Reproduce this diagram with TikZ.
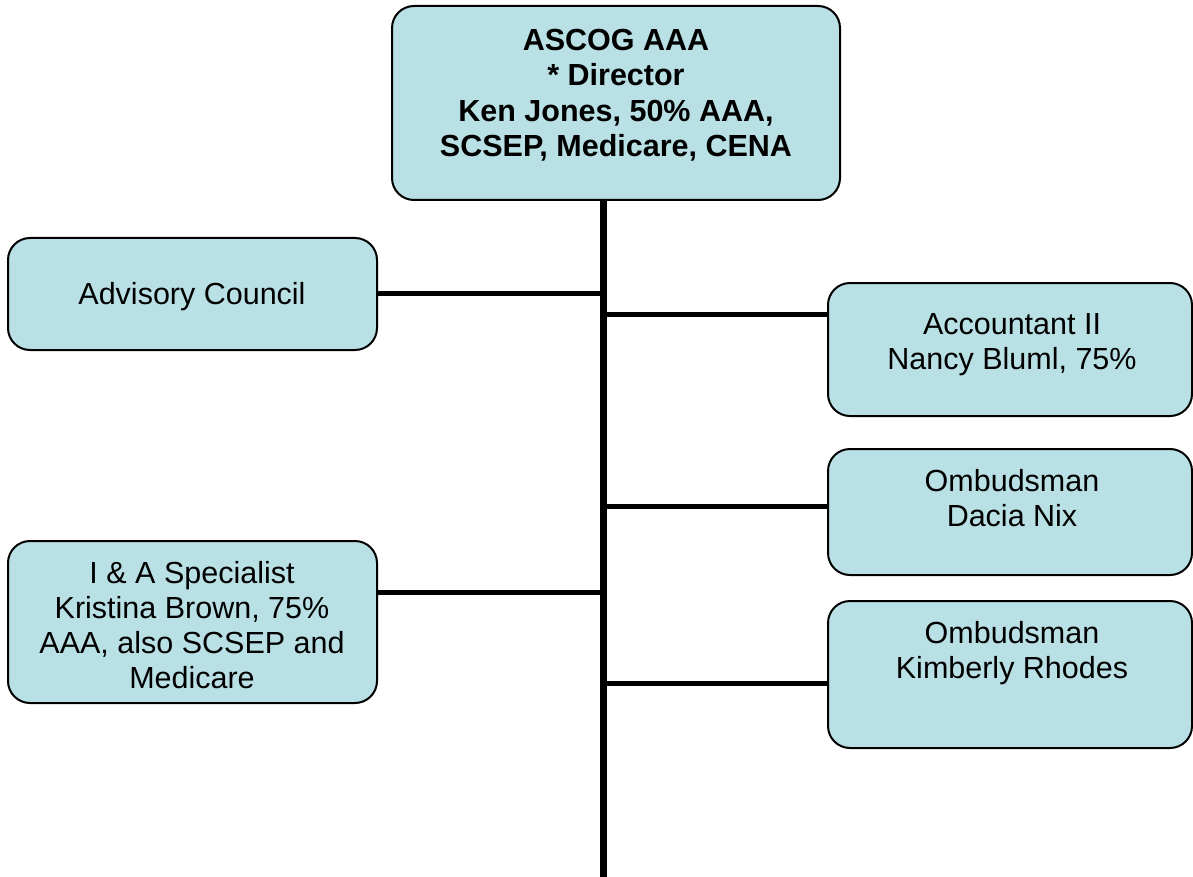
\documentclass[tikz,border=0pt]{standalone}
\usepackage{fontspec}
\setmainfont{Liberation Sans}
\definecolor{boxfill}{RGB}{185,224,228}
\begin{document}
\begin{tikzpicture}[x=1pt,y=-1pt,
  orgbox/.style={draw=black,line width=2pt,fill=boxfill,rounded corners=22pt},
  label/.style={align=center,font=\fontsize{30.5}{35}\selectfont,inner sep=0pt},
  blabel/.style={label,font=\fontsize{30.5}{35.5}\selectfont\bfseries},
  trunk/.style={line width=7pt},
  branch/.style={line width=5pt}]
\useasboundingbox (0,0) rectangle (1193,877);
% boxes
\draw[orgbox] (392,6) rectangle (840,200);
\draw[orgbox] (8,238) rectangle (377,350);
\draw[orgbox] (828,283) rectangle (1192,416);
\draw[orgbox] (828,449) rectangle (1192,575);
\draw[orgbox] (8,541) rectangle (377,703);
\draw[orgbox] (828,601) rectangle (1192,748);
% anchor coordinates on the boxes
\coordinate (top) at (603,201);
\coordinate (bottom) at (603,877);
\coordinate (advE) at (378,293);
\coordinate (accW) at (827,314);
\coordinate (omb1W) at (827,506);
\coordinate (iaE) at (378,592);
\coordinate (omb2W) at (827,683);
\coordinate (j1) at (603,293);
\coordinate (j2) at (603,314);
\coordinate (j3) at (603,506);
\coordinate (j4) at (603,592);
\coordinate (j5) at (603,683);
% texts
\node[blabel] (dir) at (616,95) {ASCOG AAA\\* Director\\Ken Jones, 50\% AAA,\\SCSEP, Medicare, CENA};
\node[label] (adv) at (192,297) {Advisory Council};
\node[label] (acc) at (1012,345) {Accountant II\\Nancy Bluml, 75\%};
\node[label] (omb1) at (1012,498) {Ombudsman\\Dacia Nix};
\node[label] (ia) at (192,625) {I \& A Specialist\\Kristina Brown, 75\%\\AAA, also SCSEP and\\Medicare};
\node[label] (omb2) at (1012,653) {Ombudsman\\Kimberly Rhodes};
% connectors
\draw[trunk] (top) -- (bottom);
\draw[branch] (advE) -- (j1);
\draw[branch] (j2) -- (accW);
\draw[branch] (j3) -- (omb1W);
\draw[branch] (iaE) -- (j4);
\draw[branch] (j5) -- (omb2W);
\end{tikzpicture}
\end{document}
